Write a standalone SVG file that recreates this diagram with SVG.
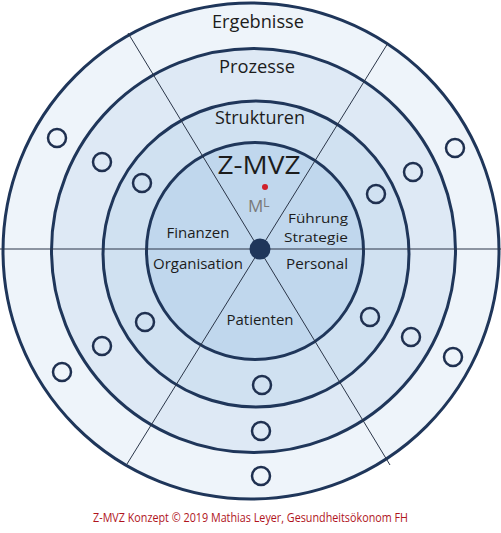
<svg xmlns="http://www.w3.org/2000/svg" width="501" height="533" viewBox="0 0 501 533">
<style>
.ring{stroke:#1f365a;stroke-width:3}
.spoke{stroke:#2a3548;stroke-width:1}
.mk{fill:none;stroke:#1f3050;stroke-width:2.5}
.t{font-family:"Open Sans","Liberation Sans",sans-serif;fill:#1c1c1c;text-anchor:middle}
.ring-lbl{font-size:17.5px}
.seg{font-size:15px}
.seg2{font-size:13.5px}
</style>
<rect width="501" height="533" fill="#ffffff"/>
<g id="ring-ergebnisse"><circle class="ring" cx="251" cy="251" r="248" fill="#eef4fa"/></g>
<g id="ring-prozesse"><circle class="ring" cx="253.5" cy="250.5" r="202" fill="#dee9f5"/></g>
<g id="ring-strukturen"><circle class="ring" cx="256" cy="254" r="153" fill="#d0e1f1"/></g>
<g id="ring-zmvz"><circle class="ring" cx="255" cy="251" r="108.5" fill="#c0d7ed"/></g>
<g id="spokes">
<line class="spoke" x1="0" y1="249" x2="501" y2="249"/>
<line class="spoke" x1="128" y1="33" x2="390" y2="465"/>
<line class="spoke" x1="388" y1="43" x2="127" y2="464"/>
</g>
<g id="center"><circle cx="260" cy="249" r="10.5" fill="#1f365a"/></g>
<g id="markers">
<circle class="mk" cx="57" cy="138" r="9"/>
<circle class="mk" cx="102" cy="162" r="9"/>
<circle class="mk" cx="142" cy="183" r="9"/>
<circle class="mk" cx="376" cy="194" r="9"/>
<circle class="mk" cx="413" cy="172" r="9"/>
<circle class="mk" cx="455" cy="148" r="9"/>
<circle class="mk" cx="145" cy="322" r="9"/>
<circle class="mk" cx="102" cy="346" r="9"/>
<circle class="mk" cx="62" cy="372" r="9"/>
<circle class="mk" cx="370" cy="317" r="9"/>
<circle class="mk" cx="411" cy="337" r="9"/>
<circle class="mk" cx="453" cy="357" r="9"/>
<circle class="mk" cx="262" cy="385" r="9"/>
<circle class="mk" cx="261" cy="431" r="9"/>
<circle class="mk" cx="261" cy="476" r="9"/>
</g>
<g id="labels">
<text class="t ring-lbl" x="258" y="28" textLength="92" lengthAdjust="spacingAndGlyphs">Ergebnisse</text>
<text class="t ring-lbl" x="257" y="73" textLength="76" lengthAdjust="spacingAndGlyphs">Prozesse</text>
<text class="t ring-lbl" x="260" y="124" textLength="90" lengthAdjust="spacingAndGlyphs">Strukturen</text>
<text class="t" x="259" y="174" font-size="26" textLength="83" lengthAdjust="spacingAndGlyphs">Z-MVZ</text>
<circle cx="265" cy="187" r="3" fill="#d0202a"/>
<text x="248" y="212" font-family="Open Sans,Liberation Sans,sans-serif" font-size="17" fill="#7a7a7a">M</text>
<text x="263" y="207" font-family="Open Sans,Liberation Sans,sans-serif" font-size="12.5" fill="#7a7a7a">L</text>
<text class="t seg2" x="318" y="223" textLength="60" lengthAdjust="spacingAndGlyphs">Führung</text>
<text class="t seg2" x="316" y="242" textLength="64" lengthAdjust="spacingAndGlyphs">Strategie</text>
<text class="t seg" x="198" y="238" textLength="63" lengthAdjust="spacingAndGlyphs">Finanzen</text>
<text class="t seg" x="198" y="269" textLength="90" lengthAdjust="spacingAndGlyphs">Organisation</text>
<text class="t seg" x="317" y="269" textLength="62" lengthAdjust="spacingAndGlyphs">Personal</text>
<text class="t seg" x="260" y="325" textLength="67" lengthAdjust="spacingAndGlyphs">Patienten</text>
</g>
<g id="footer">
<text x="93" y="522" font-family="Open Sans,Liberation Sans,sans-serif" font-size="12" fill="#b0141c" textLength="315" lengthAdjust="spacingAndGlyphs">Z-MVZ Konzept © 2019 Mathias Leyer, Gesundheitsökonom FH</text>
</g>
</svg>
